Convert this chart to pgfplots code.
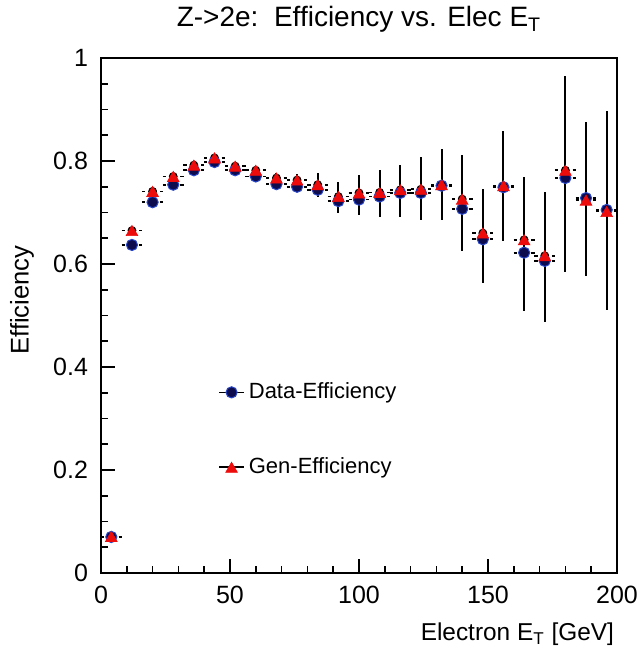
\documentclass[border=0pt]{standalone}
\usepackage{pgfplots}
\pgfplotsset{compat=1.18}
\usepackage{pgfplotstable}
\usepackage{fontspec}
\setmainfont{Liberation Sans}

\definecolor{datafill}{RGB}{12,12,78}
\definecolor{datarim}{RGB}{40,70,200}
\definecolor{genred}{RGB}{236,12,12}

% short horizontal bin-width bars with a gap around the marker
\pgfdeclareplotmark{hdash}{%
  \pgfpathmoveto{\pgfqpoint{-5.2pt}{0pt}}\pgfpathlineto{\pgfqpoint{-3.6pt}{0pt}}%
  \pgfpathmoveto{\pgfqpoint{3.6pt}{0pt}}\pgfpathlineto{\pgfqpoint{5.2pt}{0pt}}%
  \pgfusepathqstroke}

% legend symbol: short black line with the marker in its middle
\pgfplotsset{
  legline/.style={legend image code/.code={%
    \draw[black, line width=0.8pt] (0pt,0pt) -- (12.5pt,0pt);
    \draw[##1] plot coordinates {(6.25pt,0pt)};}},
}

% bin centre, data efficiency, generator efficiency, errors (+/-)
\pgfplotstableread{
x    data   gen    ep     em
4    0.070  0.071  0.004  0.004
12   0.637  0.665  0.005  0.005
20   0.720  0.741  0.005  0.005
28   0.754  0.770  0.005  0.005
36   0.782  0.792  0.005  0.005
44   0.798  0.806  0.006  0.006
52   0.782  0.790  0.006  0.006
60   0.770  0.782  0.007  0.007
68   0.755  0.767  0.009  0.009
76   0.750  0.763  0.012  0.012
84   0.744  0.754  0.023  0.023
92   0.722  0.731  0.029  0.032
100  0.725  0.738  0.034  0.042
108  0.731  0.739  0.043  0.048
116  0.738  0.744  0.048  0.053
124  0.738  0.745  0.063  0.060
132  0.752  0.754  0.070  0.069
140  0.707  0.726  0.085  0.100
148  0.648  0.660  0.085  0.096
156  0.749  0.752  0.106  0.108
164  0.622  0.647  0.121  0.139
172  0.606  0.616  0.124  0.128
180  0.767  0.782  0.184  0.197
188  0.728  0.724  0.151  0.147
196  0.705  0.702  0.195  0.191
}\effdata

\begin{document}
\begin{tikzpicture}
\path[use as bounding box] (-50.5pt,-37.5pt) rectangle (268.5pt,286.5pt);
\begin{axis}[
  at={(0pt,0pt)}, anchor=south west,
  width=258pt, height=257.5pt, scale only axis,
  xmin=0, xmax=200, ymin=0, ymax=1,
  xtick={0,50,100,150,200},
  ytick={0,0.2,0.4,0.6,0.8,1},
  minor x tick num=4, minor y tick num=3,
  xtick pos=bottom, ytick pos=left,
  tick align=inside,
  major tick length=7pt, minor tick length=3.5pt,
  axis line style={line width=1pt},
  every tick/.style={black, line width=0.8pt},
  /pgf/number format/assume math mode=true,
  tick label style={font=\fontsize{12.5}{14}\selectfont},
  xticklabel style={yshift=-3pt},
  yticklabel style={xshift=-3pt},
  title={Z->2e:\ \ Efficiency vs. Elec E\textsubscript{T}},
  title style={at={(axis description cs:0.5,1)}, anchor=base, yshift=9.5pt,
    font=\fontsize{14}{16}\selectfont},
  xlabel={Electron E\textsubscript{T} [GeV]},
  xlabel style={at={(axis description cs:1,0)}, anchor=base east, yshift=-34pt, xshift=2pt,
    font=\fontsize{12.2}{14}\selectfont},
  ylabel={Efficiency},
  ylabel style={at={(axis description cs:-0.153,0.53)}, anchor=center,
    font=\fontsize{12.8}{15}\selectfont},
  legend style={at={(axis cs:45.3,0.278)}, anchor=west, draw=none, fill=none,
    font=\fontsize{11}{13}\selectfont, row sep=24pt, inner sep=0pt},
  legend cell align=left,
]
% vertical error bars
\addplot[forget plot, only marks, mark=none,
  error bars/.cd, y dir=both, y explicit, error mark=none,
  error bar style={black, line width=1pt}]
  table[x=x, y=gen, y error plus=ep, y error minus=em] {\effdata};
% horizontal bin-width bars
\addplot[forget plot, only marks, mark=hdash, mark options={black, line width=0.85pt}]
  table[x=x, y=data] {\effdata};
\addplot[forget plot, only marks, mark=hdash, mark options={black, line width=0.85pt}]
  table[x=x, y=gen] {\effdata};
% data efficiency
\addplot[only marks, mark=*, mark size=2.8pt,
  mark options={fill=datafill, draw=datarim, line width=0.5pt}, legline]
  table[x=x, y=data] {\effdata};
\addlegendentry{Data-Efficiency}
% generator efficiency
\addplot[only marks, mark=triangle*, mark size=3.4pt,
  mark options={fill=genred, draw=genred, line width=0.3pt, yshift=-0.85pt}, legline]
  table[x=x, y=gen] {\effdata};
\addlegendentry{Gen-Efficiency}
\end{axis}
\end{tikzpicture}
\end{document}
